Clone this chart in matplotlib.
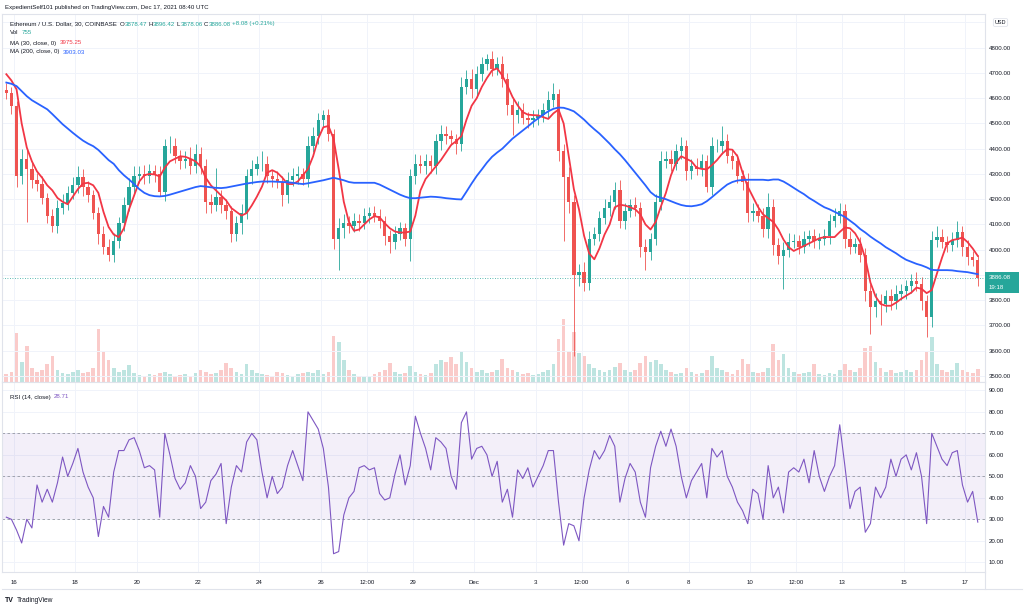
import matplotlib
matplotlib.use('Agg')
import matplotlib.pyplot as plt
import matplotlib.dates as mdates
from matplotlib.patches import Rectangle
from matplotlib.lines import Line2D
import numpy as np
import pandas as pd

plt.rcParams['font.family'] = ['Liberation Sans', 'DejaVu Sans']

bar_start = pd.date_range('2021-11-15 16:00', periods=191, freq='4h')
first_open = 4632

close = [
    4620, 4569, 4290, 4360, 4318, 4278, 4262, 4205, 4135, 4095,
    4165, 4186, 4226, 4256, 4288, 4248, 4217, 4145, 4063, 4012,
    3980, 4033, 4105, 4177, 4248, 4290, 4300, 4290, 4310, 4300,
    4227, 4412, 4412, 4370, 4350, 4360, 4330, 4380, 4330, 4187,
    4177, 4208, 4177, 4155, 4063, 4105, 4145, 4290, 4320, 4340,
    4340, 4290, 4280, 4268, 4216, 4278, 4290, 4300, 4280, 4410,
    4450, 4512, 4533, 4460, 4043, 4085, 4105, 4095, 4115, 4105,
    4135, 4145, 4135, 4115, 4053, 4032, 4063, 4085, 4043, 4290,
    4340, 4330, 4350, 4330, 4430, 4460, 4450, 4440, 4420, 4645,
    4675, 4635, 4697, 4737, 4757, 4717, 4737, 4675, 4572, 4532,
    4552, 4522, 4512, 4522, 4532, 4552, 4592, 4615, 4390, 4288,
    4187, 3900, 3910, 3870, 4043, 4063, 4125, 4165, 4187, 4238,
    4115, 4155, 4177, 4165, 4012, 3990, 4043, 4187, 4350, 4360,
    4340, 4390, 4410, 4310, 4330, 4320, 4350, 4248, 4410, 4410,
    4430, 4370, 4350, 4290, 4268, 4145, 4155, 4135, 4080, 4170,
    4020, 3975, 4000, 4030, 4033, 4012, 4043, 4053, 4033, 4043,
    4053, 4115, 4135, 4155, 4043, 4012, 4022, 3980, 3835, 3775,
    3795, 3785, 3815, 3795, 3825, 3835, 3855, 3875, 3865, 3795,
    3735, 4040, 4050, 4030, 4020, 4040, 4070, 4010, 3970, 3960,
    3886.08]

wick_up = [
    30, 25, 20, 40, 35, 30, 25, 30, 20, 25,
    30, 35, 25, 30, 45, 30, 25, 20, 25, 30,
    30, 35, 25, 30, 35, 40, 30, 35, 30, 25,
    30, 25, 40, 30, 25, 30, 45, 40, 25, 30,
    35, 114, 30, 25, 20, 30, 35, 30, 35, 30,
    50, 30, 25, 30, 25, 30, 35, 30, 25, 40,
    35, 30, 19, 25, 20, 40, 35, 30, 30, 25,
    30, 25, 30, 25, 20, 25, 30, 25, 20, 30,
    40, 35, 30, 25, 30, 35, 30, 25, 20, 40,
    35, 40, 30, 25, 20, 30, 25, 30, 25, 30,
    35, 30, 25, 30, 25, 30, 35, 45, 20, 30,
    40, 30, 35, 40, 30, 25, 30, 35, 30, 30,
    40, 30, 25, 30, 25, 30, 25, 35, 40, 30,
    35, 30, 35, 25, 30, 35, 30, 25, 35, 30,
    58, 30, 25, 30, 25, 35, 30, 25, 30, 55,
    30, 25, 30, 35, 30, 25, 30, 25, 30, 25,
    30, 25, 30, 30, 25, 30, 25, 30, 25, 30,
    35, 30, 25, 30, 35, 30, 25, 30, 35, 25,
    25, 35, 45, 30, 25, 30, 45, 25, 30, 25,
    20]

wick_dn = [
    25, 30, 40, 30, 208, 35, 30, 25, 30, 23,
    30, 25, 30, 25, 30, 35, 30, 25, 40, 30,
    25, 30, 25, 30, 25, 30, 25, 30, 25, 30,
    15, 35, 30, 25, 30, 25, 30, 25, 30, 40,
    30, 25, 30, 35, 33, 30, 43, 25, 30, 25,
    30, 25, 30, 25, 44, 30, 25, 30, 25, 30,
    25, 30, 25, 30, 40, 123, 40, 30, 25, 30,
    25, 30, 25, 30, 35, 47, 30, 25, 30, 88,
    30, 25, 30, 25, 30, 35, 30, 25, 40, 30,
    30, 35, 25, 30, 25, 30, 25, 30, 40, 77,
    30, 25, 30, 25, 30, 25, 30, 25, 40, 253,
    40, 320, 45, 35, 30, 25, 30, 25, 30, 25,
    30, 35, 25, 30, 40, 70, 30, 25, 30, 25,
    30, 25, 30, 35, 30, 25, 30, 20, 30, 25,
    30, 25, 30, 25, 30, 35, 30, 25, 30, 35,
    40, 30, 130, 30, 25, 30, 25, 30, 25, 30,
    25, 30, 25, 30, 35, 30, 25, 30, 40, 110,
    40, 85, 30, 35, 30, 25, 30, 25, 30, 35,
    80, 40, 30, 25, 30, 25, 30, 35, 30, 25,
    30]

# volume, in the pixel height of the tallest bar in each window
volume = [
    8, 10, 49, 20, 36, 14, 10, 12, 18, 26,
    12, 9, 8, 10, 12, 9, 10, 14, 53, 30,
    22, 14, 10, 12, 17, 9, 7, 6, 8, 7,
    9, 10, 8, 6, 7, 8, 6, 9, 12, 10,
    8, 9, 12, 19, 14, 10, 8, 18, 12, 9,
    8, 7, 6, 10, 9, 7, 6, 8, 9, 10,
    9, 12, 8, 10, 46, 40, 22, 12, 8, 6,
    5, 6, 8, 10, 12, 19, 10, 8, 9, 16,
    10, 8, 7, 9, 18, 22, 20, 25, 18, 31,
    20, 14, 10, 12, 9, 10, 12, 23, 14, 12,
    10, 8, 9, 7, 8, 10, 12, 18, 43, 63,
    30, 50, 29, 26, 18, 14, 12, 10, 12, 15,
    19, 12, 10, 12, 19, 26, 20, 22, 18, 12,
    10, 8, 9, 14, 10, 8, 9, 12, 26, 14,
    12, 10, 8, 12, 23, 18, 10, 9, 10, 14,
    38, 22, 28, 14, 10, 8, 9, 10, 18, 8,
    7, 9, 8, 12, 18, 12, 10, 14, 34, 36,
    20, 14, 10, 12, 9, 10, 12, 10, 12, 22,
    30, 45, 18, 12, 10, 12, 19, 12, 10, 9,
    13]

ma30 = [
    4695, 4670, 4635, 4500, 4405, 4350, 4310, 4285, 4255, 4235,
    4205, 4190, 4180, 4210, 4240, 4262, 4265, 4255, 4225, 4150,
    4090, 4060, 4050, 4085, 4160, 4215, 4270, 4295, 4300, 4298,
    4290, 4325, 4350, 4360, 4370, 4368, 4360, 4350, 4330, 4285,
    4255, 4235, 4215, 4195, 4165, 4150, 4135, 4145, 4175, 4210,
    4250, 4305, 4315, 4305, 4285, 4260, 4260, 4270, 4295, 4320,
    4370, 4440, 4485, 4490, 4440, 4320, 4190, 4110, 4075, 4080,
    4100, 4120, 4133, 4128, 4105, 4085, 4072, 4068, 4068, 4072,
    4135, 4235, 4280, 4305, 4330, 4355, 4385, 4415, 4430, 4450,
    4515, 4570, 4600, 4645, 4680, 4710, 4718, 4690, 4650, 4605,
    4572, 4545, 4535, 4533, 4532, 4525, 4518, 4540, 4555, 4500,
    4370, 4240, 4160, 4055, 3985, 3962, 4005, 4060, 4100, 4168,
    4178, 4175, 4168, 4160, 4140, 4100, 4080, 4110, 4170, 4225,
    4295, 4345, 4370, 4360, 4350, 4325, 4320, 4318, 4335, 4355,
    4380, 4398, 4396, 4370, 4305, 4250, 4210, 4170, 4140, 4125,
    4110, 4080, 4040, 4010, 3995, 4005, 4015, 4025, 4035, 4045,
    4050, 4050, 4050, 4070, 4088, 4085, 4065, 4030, 3965, 3870,
    3815, 3785, 3778, 3778, 3790, 3805, 3818, 3830, 3850, 3845,
    3828, 3840, 3905, 3968, 4025, 4038, 4042, 4048, 4030, 4005,
    3975.25]

ma200 = [
    4662, 4657, 4648, 4628, 4608, 4592, 4580, 4568, 4556, 4537,
    4517, 4497, 4480, 4463, 4447, 4432, 4420, 4410, 4395, 4375,
    4355, 4340, 4315, 4295, 4278, 4260, 4240, 4225, 4216, 4212,
    4211, 4213, 4218, 4224, 4230, 4236, 4242, 4248, 4252, 4250,
    4247, 4245, 4244, 4246, 4250, 4254, 4258, 4262, 4265, 4268,
    4270, 4270, 4270, 4269, 4268, 4267, 4265, 4262, 4260, 4263,
    4267, 4271, 4275, 4280, 4285, 4280, 4275, 4268, 4265, 4265,
    4265, 4265, 4265, 4258, 4248, 4238, 4228, 4218, 4210, 4204,
    4204, 4206, 4208, 4210, 4209, 4207, 4204, 4202, 4200, 4199,
    4230, 4262, 4292, 4318, 4345, 4368, 4385, 4400, 4420, 4440,
    4456, 4472, 4488, 4505, 4520, 4535, 4548, 4558, 4563, 4562,
    4556, 4548, 4532, 4515, 4495, 4477, 4460, 4440, 4420, 4398,
    4378, 4355, 4330, 4305, 4280, 4255, 4228, 4212, 4206, 4200,
    4192, 4184, 4177, 4173, 4172, 4175, 4180, 4192, 4208, 4225,
    4242, 4258, 4268, 4274, 4276, 4277, 4277, 4277, 4277, 4275,
    4278, 4278, 4270, 4258, 4245, 4232, 4220, 4205, 4193, 4180,
    4168, 4160, 4150, 4140, 4130, 4115, 4100, 4082, 4068, 4052,
    4038, 4025, 4010, 3998, 3986, 3972, 3960, 3952, 3944, 3938,
    3930, 3920, 3919, 3919, 3919, 3918, 3915, 3913, 3911, 3907,
    3903.03]

rsi = [
    31, 30, 25, 19, 30, 26, 46, 38, 44, 38,
    47, 59, 50, 56, 63, 52, 45, 40, 22, 36,
    31, 52, 62, 62, 67, 68, 62, 54, 55, 53,
    31, 70, 60, 49, 44, 47, 55, 50, 35, 38,
    48, 51, 56, 28, 45, 55, 52, 66, 70, 67,
    52, 40, 50, 42, 45, 55, 62, 55, 48, 80,
    76, 72, 63, 45, 14, 15, 32, 40, 43, 54,
    55, 53, 54, 42, 39, 40, 51, 60, 46, 55,
    78, 70, 63, 53, 68, 66, 63, 50, 44, 75,
    80, 58, 63, 64, 60, 50, 57, 38, 44, 31,
    53, 49, 54, 45, 50, 55, 62, 62, 38, 18,
    28, 27, 20, 40, 53, 62, 58, 62, 69, 64,
    38, 49, 56, 52, 38, 31, 54, 64, 71, 64,
    72, 64, 50, 40, 48, 52, 56, 40, 63, 59,
    62, 50, 45, 38, 34, 28, 44, 42, 30, 55,
    40, 45, 33, 52, 54, 52, 58, 47, 62, 50,
    43, 50, 55, 74, 55, 35, 43, 45, 24, 28,
    45, 40, 45, 58, 50, 58, 60, 53, 61, 50,
    28, 70, 64, 58, 55, 61, 62, 46, 38, 43,
    28.71]

price_ticks = list(range(3500, 5000, 100))
# 3900 sits under the last-price badge and 4900 under the USD badge
hidden_price_labels = [3900, 4900]
rsi_ticks = [10, 20, 30, 40, 50, 60, 70, 80, 90]
date_ticks = ['2021-11-16 00:00', '2021-11-18 00:00', '2021-11-20 00:00', '2021-11-22 00:00',
              '2021-11-24 00:00', '2021-11-26 00:00', '2021-11-27 12:00', '2021-11-29 00:00',
              '2021-12-01 00:00', '2021-12-03 00:00', '2021-12-04 12:00', '2021-12-06 00:00',
              '2021-12-08 00:00', '2021-12-10 00:00', '2021-12-11 12:00', '2021-12-13 00:00',
              '2021-12-15 00:00', '2021-12-17 00:00']
date_labels = ['16', '18', '20', '22', '24', '26', '12:00', '29', 'Dec', '3',
               '12:00', '6', '8', '10', '12:00', '13', '15', '17']
last_price = 3886.08

W, H = 1024, 609
fig = plt.figure(figsize=(W / 100, H / 100), dpi=100)


def box(x0, y0, x1, y1):
    return [x0 / W, 1 - y1 / H, (x1 - x0) / W, (y1 - y0) / H]


def fxy(x, y):
    return x / W, 1 - y / H


INK = '#131722'
UP = '#26a69a'
DOWN = '#ef5350'
LINE = '#e0e3eb'
GRID = '#f0f3fa'
FS = 4.4

t = mdates.date2num(bar_start) + 1 / 12
c = np.array(close, dtype=float)
o = np.r_[first_open, c[:-1]]
hi = np.maximum(o, c) + np.array(wick_up)
lo = np.minimum(o, c) - np.array(wick_dn)
rising = c >= o
col = np.where(rising, UP, DOWN)

day0 = mdates.date2num(pd.Timestamp('2021-11-16'))
xlim = (day0 - 12 / 30.68, day0 + 31 + 20 / 30.68)
xt = mdates.date2num(pd.to_datetime(date_ticks, format='%Y-%m-%d %H:%M'))

# volume sits behind the candles
ax_vol = fig.add_axes(box(2, 14, 985, 382))
ax_vol.bar(t, volume, width=0.12, color=col, alpha=0.3, linewidth=0)
ax_vol.set_xlim(*xlim)
ax_vol.set_ylim(0, 368)
ax_vol.axis('off')

ax = fig.add_axes(box(2, 14, 985, 382))
ax.patch.set_visible(False)
ax.vlines(t, lo, hi, colors=col, lw=0.6)
ax.bar(t, c - o, bottom=o, width=0.11, color=col, linewidth=0)
ax.plot(t, ma30, color='#f23645', lw=1.3)
ax.plot(t, ma200, color='#2962ff', lw=1.3)
ax.axhline(last_price, color=UP, lw=0.6, ls=(0, (1, 2)))
ax.set_xlim(*xlim)
ax.set_ylim(3476, 4933.5)
ax.yaxis.tick_right()
ax.set_yticks(price_ticks)
ax.set_yticklabels(['' if v in hidden_price_labels else f'{v:.2f}' for v in price_ticks],
                   fontsize=FS, color=INK)
ax.set_xticks(xt)
ax.tick_params(axis='both', length=0, labelbottom=False, pad=2.5)
ax.grid(True, color=GRID, lw=0.7)
ax.set_axisbelow(True)
for s in ax.spines.values():
    s.set_color(LINE)
    s.set_linewidth(0.8)

ax_r = fig.add_axes(box(2, 382, 985, 572))
ax_r.axhspan(30, 70, color='#7e57c2', alpha=0.09, lw=0)
for lvl in (30, 50, 70):
    ax_r.axhline(lvl, color='#9598a1', lw=0.6, ls=(0, (3, 3)))
ax_r.plot(t, rsi, color='#7e57c2', lw=0.8)
ax_r.set_xlim(*xlim)
ax_r.set_ylim(5.5, 93.9)
ax_r.yaxis.tick_right()
ax_r.set_yticks(rsi_ticks)
ax_r.set_yticklabels([f'{v:.2f}' for v in rsi_ticks], fontsize=FS, color=INK)
ax_r.set_xticks(xt)
ax_r.set_xticklabels(date_labels, fontsize=FS, color=INK)
ax_r.tick_params(axis='y', length=0, pad=2.5)
ax_r.tick_params(axis='x', length=0, pad=6)
ax_r.grid(True, color=GRID, lw=0.7)
ax_r.set_axisbelow(True)
for s in ax_r.spines.values():
    s.set_color(LINE)
    s.set_linewidth(0.8)

# frame of the time scale strip
fig.add_artist(Line2D([2 / W, 1022 / W], [1 - 589 / H] * 2, color=LINE, lw=0.8))
fig.add_artist(Line2D([985 / W] * 2, [1 - 572 / H, 1 - 589 / H], color=LINE, lw=0.8))

renderer = fig.canvas.get_renderer()


def chain(x, y, parts, size=FS):
    for s, color, gap in parts:
        txt = fig.text(*fxy(x, y), s, color=color, fontsize=size, va='center', ha='left')
        x = txt.get_window_extent(renderer).x1 + gap


fig.text(*fxy(5, 8), 'ExpedientSelf101 published on TradingView.com, Dec 17, 2021 08:40 UTC',
         fontsize=FS, color=INK, va='center')
chain(10, 24, [('Ethereum / U.S. Dollar, 30, COINBASE', INK, 3),
               ('O', INK, 0), ('3878.47', UP, 1.5),
               ('H', INK, 0), ('3896.42', UP, 1.5),
               ('L', INK, 0), ('3878.06', UP, 1.5),
               ('C', INK, 0), ('3886.08', UP, 1.5),
               ('+8.08 (+0.21%)', UP, 0)])
chain(10, 33, [('Vol', INK, 3), ('755', UP, 0)])
chain(10, 43, [('MA (30, close, 0)', INK, 3), ('3975.25', '#f23645', 0)])
chain(10, 52, [('MA (200, close, 0)', INK, 3), ('3903.03', '#2962ff', 0)])
chain(10, 397, [('RSI (14, close)', INK, 3), ('28.71', '#7e57c2', 0)])

# last price badge
fig.add_artist(Rectangle(fxy(985, 293), 34 / W, 21 / H, transform=fig.transFigure,
                         color=UP, lw=0))
fig.text(*fxy(988.5, 277.5), '3886.08', fontsize=FS, color='white', va='center')
fig.text(*fxy(988.5, 287.5), '19:18', fontsize=FS, color='white', va='center')

# currency badge at the top of the price scale
fig.text(*fxy(1000.5, 22.5), 'USD', fontsize=FS - 0.4, color=INK, ha='center', va='center',
         bbox=dict(boxstyle='round,pad=0.25', fc='white', ec=LINE, lw=0.6))

# footer logo
fig.text(*fxy(5, 600), 'TV', fontsize=5, color=INK, va='center', fontweight='bold')
fig.text(*fxy(17, 600), 'TradingView', fontsize=FS + 0.4, color=INK, va='center')

fig.savefig('out.png', dpi=100)
